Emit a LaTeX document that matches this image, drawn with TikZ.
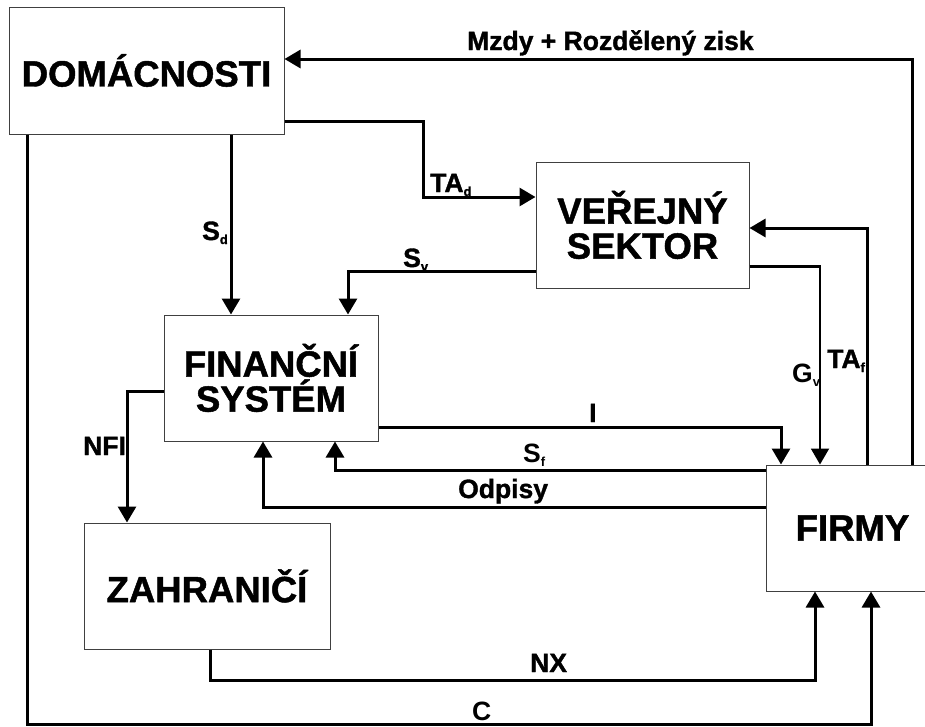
\documentclass[tikz,border=0pt]{standalone}
\usepackage{fontspec}
\setmainfont{Liberation Sans}[BoldFeatures={FakeBold=1.3}]
\newfontfamily\plainsans{Liberation Sans}
\usetikzlibrary{arrows.meta}
\newcommand\lowidx[1]{\raisebox{-4pt}{\fontsize{13}{13}\selectfont #1}}
\begin{document}
\begin{tikzpicture}[x=1pt,y=-1pt,
  box/.style={draw=black!75, line width=1pt, rectangle, inner sep=0pt, align=center,
              font=\fontsize{36.5}{35}\selectfont\bfseries},
  flow/.style={line width=3pt, -{Triangle[width=18pt,length=16pt]}},
  lbl/.style={font=\fontsize{26.5}{26.5}\selectfont\bfseries, inner sep=0pt, anchor=base west},
  lblr/.style={font=\plainsans\fontsize{26.5}{26.5}\selectfont\bfseries, inner sep=0pt, anchor=base west}]
\clip (0,0) rectangle (925,726);
\fill[white] (0,0) rectangle (925,726);
% boxes
\node[box, minimum width=275pt, minimum height=127pt] (dom) at (146.5,70.5) {DOMÁCNOSTI};
\node[box, minimum width=213pt, minimum height=126pt] (vs) at (642.5,225) {VEŘEJNÝ\\SEKTOR};
\node[box, minimum width=214pt, minimum height=126pt] (fin) at (271,378) {FINANČNÍ\\SYSTÉM};
\node[box, minimum width=246pt, minimum height=126pt] (zah) at (207,586) {ZAHRANIČÍ};
\node[box, minimum width=173pt, minimum height=126pt] (firmy) at (852.5,528) {FIRMY};
% bend points
\coordinate (mz) at (912,59);
\coordinate (tad1) at (423,121);
\coordinate (tad2) at (423,197);
\coordinate (sd) at (231,0);
\coordinate (sv) at (348,271);
\coordinate (gv) at (820,266);
\coordinate (taf) at (867,228);
\coordinate (nfi) at (127,391);
\coordinate (ii) at (781,427);
\coordinate (sf) at (335,470);
\coordinate (od) at (263,507);
\coordinate (nx1) at (210,680);
\coordinate (nx2) at (815,680);
\coordinate (c1) at (27,724);
\coordinate (c2) at (871,724);
% connectors
\draw[flow] (firmy.north -| mz) -- (mz) -- (dom.east |- mz);
\draw[flow] (dom.east |- tad1) -- (tad1) -- (tad2) -- (vs.west |- tad2);
\draw[flow] (dom.south -| sd) -- (fin.north -| sd);
\draw[flow] (vs.west |- sv) -- (sv) -- (fin.north -| sv);
\draw[line width=3pt] (vs.east |- gv) -- ([xshift=1pt]gv);
\draw[flow, line width=2pt] (gv) -- (firmy.north -| gv);
\draw[flow] (firmy.north -| taf) -- (taf) -- (vs.east |- taf);
\draw[flow] (fin.west |- nfi) -- (nfi) -- (zah.north -| nfi);
\draw[flow] (fin.east |- ii) -- (ii) -- (firmy.north -| ii);
\draw[flow] (firmy.west |- sf) -- (sf) -- (fin.south -| sf);
\draw[flow] (firmy.west |- od) -- (od) -- (fin.south -| od);
\draw[flow] (zah.south -| nx1) -- (nx1) -- (nx2) -- (firmy.south -| nx2);
\draw[flow] (dom.south -| c1) -- (c1) -- (c2) -- (firmy.south -| c2);
% labels
\node[lbl] (lmz) at (467,50) {Mzdy + Rozdělený zisk};
\node[lbl] (lsd) at (202,240) {S\lowidx{d}};
\node[lbl] (ltad) at (430,192) {TA\lowidx{d}};
\node[lbl] (lsv) at (403,267) {S\lowidx{v}};
\node[lbl] (lnfi) at (83,455) {NFI};
\node[lbl] (li) at (589,422) {I};
\node[lblr] (lsf) at (523,462) {S\lowidx{f}};
\node[lbl] (lod) at (458,498) {Odpisy};
\node[lblr] (lgv) at (792,382) {G\lowidx{v}};
\node[lbl] (ltaf) at (827,368) {TA\lowidx{f}};
\node[lbl] (lnx) at (530,672) {NX};
\node[lblr] (lc) at (472,720) {C};
\end{tikzpicture}
\end{document}
